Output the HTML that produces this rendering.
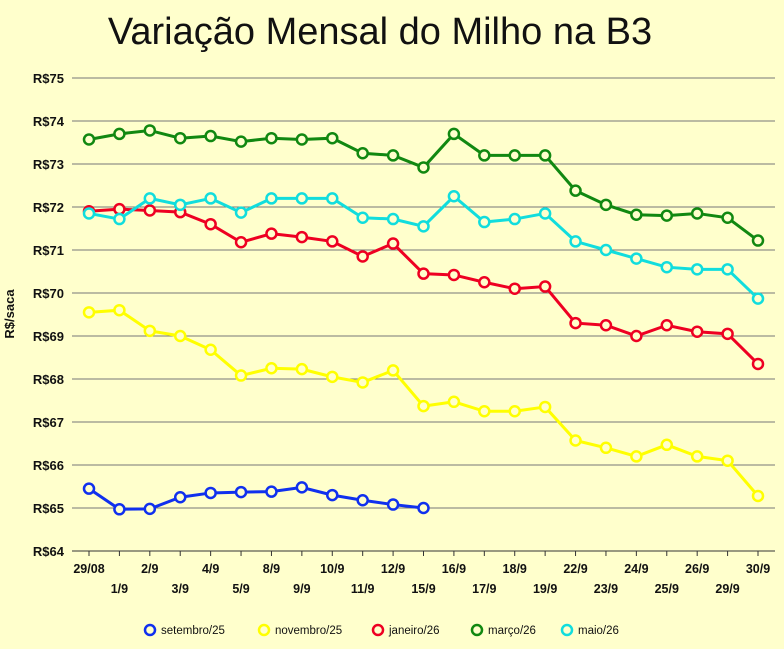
<!DOCTYPE html>
<html><head><meta charset="utf-8"><style>
body{margin:0;background:#ffffcc;}
svg{display:block;font-family:"Liberation Sans",sans-serif;}
</style></head><body>
<svg id="chart" width="784" height="649" viewBox="0 0 784 649">
<rect x="0" y="0" width="784" height="649" fill="#ffffcc"/>
<text x="380" y="44" font-size="38" text-anchor="middle" fill="#111">Variação Mensal do Milho na B3</text>
<text transform="translate(14,314) rotate(-90)" font-size="13" font-weight="bold" text-anchor="middle" fill="#111">R$/saca</text>
<g id="grid"></g><g id="xaxis"></g><g id="series"></g><g id="legend"></g>
</svg>
<script>
const categories=["29/08","1/9","2/9","3/9","4/9","5/9","8/9","9/9","10/9","11/9","12/9","15/9","16/9","17/9","18/9","19/9","22/9","23/9","24/9","25/9","26/9","29/9","30/9"];
const yTicks=[64,65,66,67,68,69,70,71,72,73,74,75];
const seriesNames=["setembro/25","novembro/25","janeiro/26","março/26","maio/26"];
const seriesColors=["#1030ee","#ffff00","#ee0022","#118811","#11dddd"];
const setembro=[65.45,64.97,64.98,65.25,65.35,65.37,65.38,65.48,65.3,65.18,65.08,65.0];
const novembro=[69.55,69.6,69.12,69.0,68.68,68.08,68.25,68.23,68.05,67.92,68.2,67.37,67.47,67.25,67.25,67.35,66.57,66.4,66.2,66.47,66.2,66.1,65.28];
const janeiro=[71.9,71.95,71.92,71.88,71.6,71.18,71.38,71.3,71.2,70.85,71.15,70.45,70.42,70.25,70.1,70.15,69.3,69.25,69.0,69.25,69.1,69.05,68.35];
const marco=[73.57,73.7,73.78,73.6,73.65,73.52,73.6,73.57,73.6,73.25,73.2,72.92,73.7,73.2,73.2,73.2,72.38,72.05,71.82,71.8,71.85,71.75,71.22];
const maio=[71.85,71.72,72.2,72.05,72.2,71.87,72.2,72.2,72.2,71.75,71.72,71.55,72.25,71.65,71.72,71.85,71.2,71.0,70.8,70.6,70.55,70.55,69.87];
const allSeries=[setembro,novembro,janeiro,marco,maio];
const NS="http://www.w3.org/2000/svg";
const L=72,R=775,T=78,B=551,X0=89,X1=758;
const x=i=>X0+i*(X1-X0)/(categories.length-1);
const y=v=>B-(v-64)/(75-64)*(B-T);
function mk(tag,attrs,parent){const e=document.createElementNS(NS,tag);for(const k in attrs)e.setAttribute(k,attrs[k]);parent.appendChild(e);return e;}
const grid=document.getElementById('grid');
yTicks.forEach(v=>{
 const l=mk('line',{x1:L,x2:R,y1:y(v),y2:y(v),stroke:v===64?'#333':'#777','stroke-width':1},grid);
 
 
 const t=mk('text',{x:64,y:y(v)+5,'font-size':13,'font-weight':'bold','text-anchor':'end',fill:'#111'},grid);
 t.textContent='R$'+v;
 
 
});
const xa=document.getElementById('xaxis');
categories.forEach((c,i)=>{
 const tk=mk('line',{x1:x(i),x2:x(i),y1:B,y2:B+5,stroke:'#333'},xa);
 
 
 const t=mk('text',{x:x(i),y:i%2===0?573:593,'font-size':12.5,'font-weight':'bold','text-anchor':'middle',fill:'#111'},xa);
 t.textContent=c;
 
 
});
const sg=document.getElementById('series');
allSeries.forEach((d,s)=>{
 const g=mk('g',{},sg);
 
 
 const p=mk('polyline',{points:d.map((v,i)=>x(i)+','+y(v)).join(' '),fill:'none',stroke:seriesColors[s],'stroke-width':3},g);
 
 
 d.forEach((v,i)=>{
  const c=mk('circle',{cx:x(i),cy:y(v),r:5,fill:'#ffffcc',stroke:seriesColors[s],'stroke-width':2.5},g);
  
  
 });
});
const lg=document.getElementById('legend');
const lx=[150,264,378,477,567];
seriesNames.forEach((n,s)=>{
 const g=mk('g',{},lg);
 
 
 mk('circle',{cx:lx[s],cy:630,r:5,fill:'#ffffcc',stroke:seriesColors[s],'stroke-width':2.5},g);
 const t=mk('text',{x:lx[s]+11,y:634,'font-size':11.5,fill:'#111'},g);
 t.textContent=n;
});
</script>
</body></html>
